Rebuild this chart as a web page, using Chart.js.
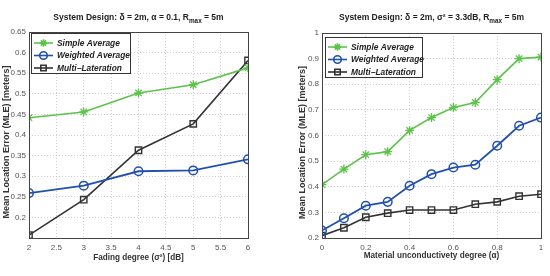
<!DOCTYPE html>
<html>
<head>
<meta charset="utf-8">
<script src="https://cdn.jsdelivr.net/npm/chart.js@4"></script>
<style>
  html, body { margin: 0; padding: 0; background: #fff; }
  .wrap { display: flex; width: 550px; height: 276px; }
  canvas { display: block; }
</style>
</head>
<body>
<div class="wrap">
  <canvas id="fadingChart" width="275" height="276"></canvas>
  <canvas id="materialChart" width="275" height="276"></canvas>
</div>
<script>
// left plot: fading degree
const fadingX = [2, 3, 4, 5, 6];
const fadingSimple = [0.442, 0.456, 0.502, 0.522, 0.563];
const fadingWeighted = [0.259, 0.277, 0.312, 0.314, 0.341];
const fadingMulti = [0.157, 0.243, 0.363, 0.427, 0.581];

// right plot: material unconductivety
const alphaX = [0, 0.1, 0.2, 0.3, 0.4, 0.5, 0.6, 0.7, 0.8, 0.9, 1];
const alphaSimple = [0.408, 0.469, 0.525, 0.537, 0.620, 0.670, 0.709, 0.729, 0.818, 0.900, 0.906];
const alphaWeighted = [0.229, 0.277, 0.326, 0.341, 0.404, 0.449, 0.475, 0.486, 0.560, 0.638, 0.670];
const alphaMulti = [0.209, 0.240, 0.281, 0.297, 0.309, 0.309, 0.309, 0.332, 0.341, 0.363, 0.371];

const seriesNames = ['Simple Average', 'Weighted Average', 'Multi\u2212Lateration'];

const GREEN = '#5cc24a', BLUE = '#2150b0', BLACK = '#333333';
const FONT = '"Liberation Sans", Arial, sans-serif';

function makeSets(xs, s, w, m) {
    const pts = arr => arr.map((y, i) => ({ x: xs[i], y }));
    return [
        { label: seriesNames[0], data: pts(s), borderColor: GREEN, backgroundColor: GREEN, pointStyle: 'star', pointRadius: 4.5, borderWidth: 1.6, pointBorderWidth: 1.3 },
        { label: seriesNames[1], data: pts(w), borderColor: BLUE, backgroundColor: 'rgba(0,0,0,0)', pointStyle: 'circle', pointRadius: 4.3, borderWidth: 1.8, pointBorderWidth: 1.5 },
        { label: seriesNames[2], data: pts(m), borderColor: BLACK, backgroundColor: 'rgba(0,0,0,0)', pointStyle: 'rect', pointRadius: 4.5, borderWidth: 1.6, pointBorderWidth: 1.4 }
    ];
}

// draws text parts, supporting subscript pieces
function drawParts(ctx, parts, cx, y, size) {
    const measure = p => {
        ctx.font = `bold ${p.sub ? size * 0.75 : size}px ${FONT}`;
        return ctx.measureText(p.t).width;
    };
    const total = parts.reduce((a, p) => a + measure(p), 0);
    let x = cx - total / 2;
    parts.forEach(p => {
        const wdt = measure(p);
        ctx.fillText(p.t, x, p.sub ? y + size * 0.38 : y);
        x += wdt;
    });
}

const decoPlugin = {
    id: 'deco',
    afterDraw(chart, args, opts) {
        const { ctx, chartArea: a } = chart;
        ctx.save();
        // box
        ctx.strokeStyle = '#444';
        ctx.lineWidth = 1;
        ctx.strokeRect(a.left + 0.5, a.top + 0.5, a.right - a.left, a.bottom - a.top);

        // title
        ctx.fillStyle = '#222';
        ctx.textAlign = 'left';
        ctx.textBaseline = 'middle';
        drawParts(ctx, opts.title, (a.left + a.right) / 2, 18, 8.5);

        // x title
        ctx.textAlign = 'center';
        ctx.font = `bold 8.2px ${FONT}`;
        ctx.fillStyle = '#333';
        ctx.fillText(opts.xTitle, (a.left + a.right) / 2, opts.xTitleY);

        // y title
        ctx.save();
        ctx.font = `bold 9px ${FONT}`;
        ctx.translate(opts.yTitleX, (a.top + a.bottom) / 2 + 7);
        ctx.rotate(-Math.PI / 2);
        ctx.fillText(opts.yTitle, 0, 0);
        ctx.restore();

        // legend box inside plot
        const lx = a.left + opts.legend.dx, ly = a.top + opts.legend.dy;
        const lw = opts.legend.w, lh = 40;
        ctx.fillStyle = '#fff';
        ctx.fillRect(lx, ly, lw, lh);
        ctx.strokeStyle = '#333';
        ctx.lineWidth = 1;
        ctx.strokeRect(lx + 0.5, ly + 0.5, lw, lh);
        chart.data.datasets.forEach((ds, i) => {
            const yy = ly + 10 + i * 12.5;
            ctx.strokeStyle = ds.borderColor;
            ctx.lineWidth = 1.6;
            ctx.beginPath();
            ctx.moveTo(lx + 3, yy);
            ctx.lineTo(lx + 22, yy);
            ctx.stroke();
            ctx.fillStyle = ds.backgroundColor;
            Chart.helpers.drawPoint(ctx, { pointStyle: ds.pointStyle, radius: 3.8, borderWidth: 1.3 }, lx + 12.5, yy);
            ctx.fillStyle = '#222';
            ctx.font = `italic bold 8.4px ${FONT}`;
            ctx.textAlign = 'left';
            ctx.fillText(ds.label, lx + 26, yy + 0.5);
        });
        ctx.restore();
    }
};

function buildChart(id, sets, cfg) {
    const grid = { color: '#c4c4c4', lineWidth: 0.8, drawTicks: false };
    const border = { display: false, dash: [1, 2] };
    return new Chart(document.getElementById(id), {
        type: 'line',
        data: { datasets: sets },
        options: {
            responsive: false,
            animation: false,
            layout: { padding: { top: cfg.top, right: 275 - cfg.right, left: 0, bottom: 0 } },
            plugins: {
                legend: { display: false },
                tooltip: { enabled: false },
                deco: cfg.deco
            },
            elements: { line: { tension: 0 } },
            scales: {
                x: {
                    type: 'linear', min: cfg.xMin, max: cfg.xMax,
                    ticks: {
                        stepSize: cfg.xStep, color: '#555', padding: 5, maxRotation: 0,
                        font: { family: FONT, size: 8 },
                        callback: v => +v.toFixed(2)
                    },
                    grid, border,
                    afterFit: s => { s.height = 276 - cfg.bottom; }
                },
                y: {
                    type: 'linear', min: cfg.yMin, max: cfg.yMax,
                    ticks: {
                        stepSize: cfg.yStep, color: '#555', padding: 3,
                        font: { family: FONT, size: 8 },
                        callback: v => (cfg.hideFirst && Math.abs(v - cfg.yMin) < 1e-9) ? '' : +v.toFixed(2)
                    },
                    grid, border,
                    afterFit: s => { s.width = cfg.left; }
                }
            }
        },
        plugins: [decoPlugin]
    });
}

const fadingCfg = {
    xMin: 2, xMax: 6, xStep: 0.5, yMin: 0.15, yMax: 0.65, yStep: 0.05, hideFirst: true,
    left: 29, right: 248, top: 32, bottom: 238,
    deco: {
        title: [{ t: 'System Design: \u03b4 = 2m, \u03b1 = 0.1, R' }, { t: 'max', sub: true }, { t: ' = 5m' }],
        xTitle: 'Fading degree (\u03c3\u00b2) [dB]', xTitleY: 258,
        yTitle: 'Mean Location Error (MLE) [meters]', yTitleX: 7,
        legend: { dx: 2, dy: 1, w: 99 }
    }
};

const alphaCfg = {
    xMin: 0, xMax: 1, xStep: 0.2, yMin: 0.2, yMax: 1, yStep: 0.1, hideFirst: false,
    left: 47, right: 266, top: 33, bottom: 238,
    deco: {
        title: [{ t: 'System Design: \u03b4 = 2m, \u03c3\u00b2 = 3.3dB, R' }, { t: 'max', sub: true }, { t: ' = 5m' }],
        xTitle: 'Material unconductivety degree (\u03b1)', xTitleY: 256,
        yTitle: 'Mean Location Error (MLE) [meters]', yTitleX: 28,
        legend: { dx: 3, dy: 4, w: 97 }
    }
};

buildChart('fadingChart', makeSets(fadingX, fadingSimple, fadingWeighted, fadingMulti), fadingCfg);
buildChart('materialChart', makeSets(alphaX, alphaSimple, alphaWeighted, alphaMulti), alphaCfg);
</script>
</body>
</html>
